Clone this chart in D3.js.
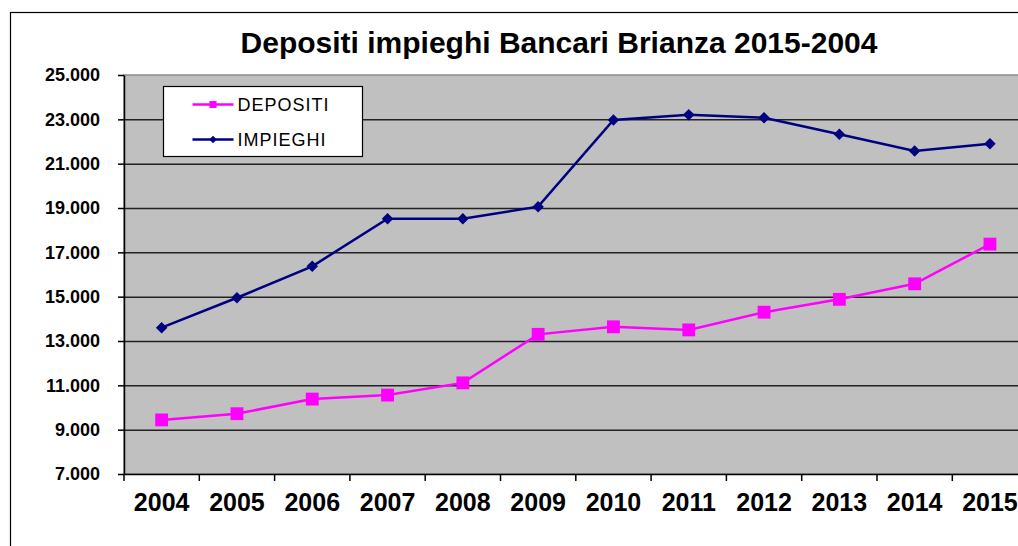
<!DOCTYPE html>
<html>
<head>
<meta charset="utf-8">
<script src="https://cdn.jsdelivr.net/npm/d3@7"></script>
<style>
  body { margin: 0; background: #fff; overflow: hidden; }
  svg { display: block; font-family: "Liberation Sans", Arial, sans-serif; }
  .axis .domain { stroke: #000; stroke-width: 1.5; }
  .axis line { stroke: #000; stroke-width: 1.5; }
  .grid line { stroke: #222; stroke-width: 1.5; }
  .grid .domain { display: none; }
</style>
</head>
<body>
<svg class="chart"></svg>
<script>
const years = ['2004', '2005', '2006', '2007', '2008', '2009', '2010', '2011', '2012', '2013', '2014', '2015'];
const depositi = [9440, 9720, 10380, 10560, 11110, 13300, 13640, 13500, 14300, 14880, 15580, 17370];
const impieghi = [13600, 14950, 16370, 18520, 18520, 19060, 22970, 23210, 23070, 22330, 21570, 21900];
const yTicks = [7000, 9000, 11000, 13000, 15000, 17000, 19000, 21000, 23000, 25000];
const seriesNames = ['DEPOSITI', 'IMPIEGHI'];

const W = 1018, H = 546;
const margin = {top: 75, left: 124, bottom: 72};
const step = 75.3;
const width = step * years.length;
const height = H - margin.top - margin.bottom;

const it = d3.formatLocale({decimal: ',', thousands: '.', grouping: [3], currency: ['', '']});
const fmt = it.format(',.0f');

const x = d3.scaleBand()
    .domain(years)
    .range([0, width])
    .padding(0);

const y = d3.scaleLinear()
    .domain([7000, 25000])
    .range([height, 0]);

const svg = d3.select('.chart')
    .attr('width', W)
    .attr('height', H);

// outer chart frame (runs off the right / bottom edge like the source)
svg.append('rect')
    .attr('x', 10.5)
    .attr('y', 12.5)
    .attr('width', W + 20)
    .attr('height', H + 20)
    .attr('fill', '#fff')
    .attr('stroke', '#000')
    .attr('stroke-width', 1.2);

svg.append('text')
    .attr('x', 559)
    .attr('y', 53)
    .attr('text-anchor', 'middle')
    .style('font-size', '30px')
    .style('font-weight', 'bold')
    .text('Depositi impieghi Bancari Brianza 2015-2004');

const chart = svg.append('g')
    .attr('transform', `translate(${ margin.left },${ margin.top })`);

// plot background
chart.append('rect')
    .attr('width', width)
    .attr('height', height)
    .attr('fill', '#c0c0c0')
    .attr('stroke', '#8c8c8c')
    .attr('stroke-width', 1.5);

// gridlines
chart.append('g')
    .attr('class', 'grid')
    .call(d3.axisLeft(y)
      .tickValues(yTicks.filter((d) => d > 7000 && d < 25000))
      .tickSize(-width)
      .tickFormat(''));

const yAxis = d3.axisLeft(y)
    .tickValues(yTicks)
    .tickSize(6)
    .tickSizeOuter(0)
    .tickPadding(18)
    .tickFormat(fmt);

chart.append('g')
    .attr('class', 'y axis')
    .call(yAxis)
  .selectAll('text')
    .style('font-size', '18px')
    .style('font-weight', 'bold')
    .attr('fill', '#000');

const xAxis = d3.axisBottom(x)
    .tickSize(0)
    .tickSizeOuter(0)
    .tickPadding(19);

const gx = chart.append('g')
    .attr('class', 'x axis')
    .attr('transform', `translate(0,${ height })`)
    .call(xAxis);

gx.selectAll('text')
    .style('font-size', '25px')
    .style('font-weight', 'bold')
    .attr('fill', '#000');

// category ticks sit between the years
gx.selectAll('.cat-tick')
    .data(years)
  .enter().append('line')
    .attr('class', 'cat-tick')
    .attr('x1', (d) => x(d))
    .attr('x2', (d) => x(d))
    .attr('y1', 0)
    .attr('y2', 7);

const cx = (d, i) => x(years[i]) + x.bandwidth() / 2;

const line = d3.line()
    .x(cx)
    .y((d) => y(d));

// diamonds are squares turned by 45 degrees (d3's own diamond is too tall)
const series = [
  {name: seriesNames[0], values: depositi, color: '#ff00ff', size: 165, rot: 0, legendSize: 50},
  {name: seriesNames[1], values: impieghi, color: '#000080', size: 66, rot: 45, legendSize: 28}
];

series.forEach((s) => {
  chart.append('path')
      .datum(s.values)
      .attr('fill', 'none')
      .attr('stroke', s.color)
      .attr('stroke-width', 2.5)
      .attr('d', line);

  chart.selectAll(null)
      .data(s.values)
    .enter().append('path')
      .attr('transform', (d, i) => `translate(${ cx(d, i) },${ y(d) }) rotate(${ s.rot })`)
      .attr('d', d3.symbol().type(d3.symbolSquare).size(s.size))
      .attr('fill', s.color);
});

// legend
const legend = svg.append('g')
    .attr('transform', 'translate(163.5,86.5)');

legend.append('rect')
    .attr('width', 199)
    .attr('height', 70)
    .attr('fill', '#fff')
    .attr('stroke', '#000')
    .attr('stroke-width', 1.2);

const item = legend.selectAll('.item')
    .data(series)
  .enter().append('g')
    .attr('class', 'item')
    .attr('transform', (d, i) => `translate(0,${ 18 + i * 35 })`);

item.append('line')
    .attr('x1', 29)
    .attr('x2', 70)
    .attr('stroke', (d) => d.color)
    .attr('stroke-width', 2.5);

item.append('path')
    .attr('transform', (d) => `translate(49.5,0) rotate(${ d.rot })`)
    .attr('d', (d) => d3.symbol().type(d3.symbolSquare).size(d.legendSize)())
    .attr('fill', (d) => d.color);

item.append('text')
    .attr('x', 74)
    .attr('dy', '0.36em')
    .style('font-size', '18px')
    .style('letter-spacing', '1px')
    .text((d) => d.name);
</script>
</body>
</html>
